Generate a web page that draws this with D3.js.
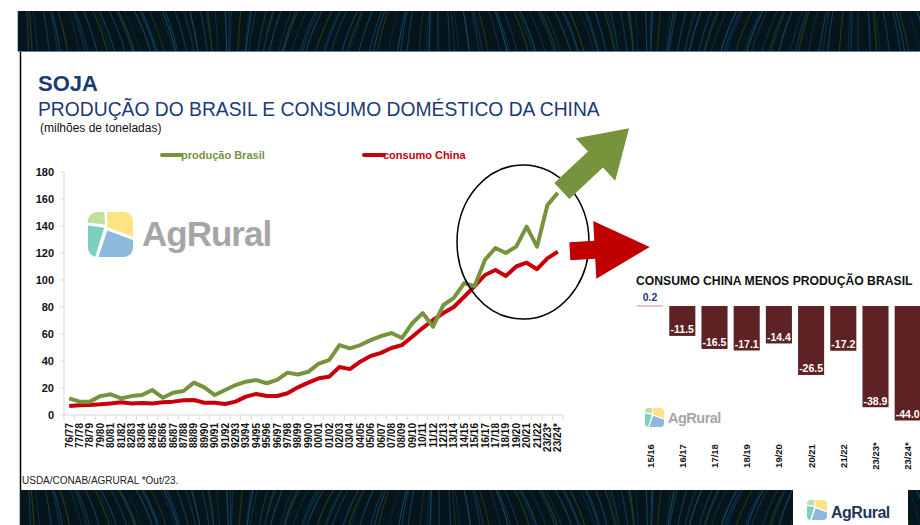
<!DOCTYPE html>
<html>
<head>
<meta charset="utf-8">
<script src="https://cdn.jsdelivr.net/npm/d3@7"></script>
<style>
  body { margin: 0; background: #fff; }
  svg { display: block; font-family: "Liberation Sans", Arial, sans-serif; }
</style>
</head>
<body>
<script>
/* seasons on the main chart */
var seasons = ["76/77","77/78","78/79","79/80","80/81","81/82","82/83","83/84","84/85","85/86",
  "86/87","87/88","88/89","89/90","90/91","91/92","92/93","93/94","94/95","95/96",
  "96/97","97/98","98/99","99/00","00/01","01/02","02/03","03/04","04/05","05/06",
  "06/07","07/08","08/09","09/10","10/11","11/12","12/13","13/14","14/15","15/16",
  "16/17","17/18","18/19","19/20","20/21","21/22","23/23*","23/24*"];

/* soy production Brazil (million t) */
var brasil = [12.3, 9.9, 9.9, 14.0, 15.3, 12.3, 14.0, 14.8, 18.5, 12.8,
  16.5, 17.8, 24.0, 20.5, 14.8, 18.5, 22.2, 24.7, 25.9, 23.5,
  26.0, 31.4, 30.0, 32.0, 38.0, 40.7, 51.8, 49.4, 51.8, 55.5,
  58.5, 60.7, 57.0, 68.0, 75.5, 65.4, 81.5, 86.7, 97.7, 95.5,
  115.0, 123.7, 120.0, 124.7, 139.5, 124.7, 155.5, 164.5];

/* soy domestic consumption China (million t) */
var china = [6.7, 7.2, 7.4, 7.9, 8.6, 9.4, 8.6, 8.9, 8.6, 9.4,
  9.9, 10.9, 11.1, 9.1, 9.1, 8.1, 9.9, 13.6, 15.6, 14.1,
  14.1, 16.1, 20.5, 24.0, 27.2, 28.4, 35.5, 34.0, 39.5, 43.7,
  46.0, 49.6, 51.8, 58.0, 64.4, 70.4, 75.5, 80.0, 87.6, 95.5,
  103.7, 107.4, 103.0, 110.0, 112.8, 108.0, 116.0, 121.0];

var yTicks = [0, 20, 40, 60, 80, 100, 120, 140, 160, 180];

/* right panel: consumption China minus production Brazil */
var diffSeasons = ["15/16","16/17","17/18","18/19","19/20","20/21","21/22","23/23*","23/24*"];
var diffValues = [0.2, -11.5, -16.5, -17.1, -14.4, -26.5, -17.2, -38.9, -44.0];

var W = 920, H = 525;
var green = "#77933c", red = "#c8000a", navy = "#1b3a78", maroon = "#5e2225";

var svg = d3.select("body").append("svg").attr("width", W).attr("height", H);

/* dark decorative bands */
function band(x0, y0, w, h) {
  var g = svg.append("g");
  g.append("rect").attr("x", x0).attr("y", y0).attr("width", w).attr("height", h).attr("fill", "#06151c");
  var cols = ["#0e3a55", "#123f5c", "#2b3d12", "#0b2c40", "#164a66"];
  for (var i = 0; i < 150; i++) {
    var x = x0 + i * (w / 150) + 3 * Math.sin(i * 1.7);
    var bend = 10 * Math.sin(i * 0.09);
    g.append("path")
      .attr("d", "M" + x + "," + y0 + " Q" + (x + bend) + "," + (y0 + h / 2) + " " + (x + bend * 1.6) + "," + (y0 + h))
      .attr("stroke", cols[i % 5]).attr("stroke-width", 1.2).attr("fill", "none")
      .attr("opacity", 0.55 + 0.4 * Math.abs(Math.sin(i * 0.7)));
  }
}
band(18, 11, W - 18, 40);
band(20, 490, W - 20, 35);
svg.append("line").attr("x1", 18).attr("x2", W).attr("y1", 51.5).attr("y2", 51.5).attr("stroke", "#5c7fa6").attr("stroke-width", 1.2);
svg.append("line").attr("x1", 20.5).attr("x2", 20.5).attr("y1", 52).attr("y2", 490).attr("stroke", "#000").attr("stroke-width", 1.5);

/* logo */
function logo(x, y, s) {
  var g = svg.append("g").attr("transform", "translate(" + x + "," + y + ") scale(" + s + ")");
  var id = "clip" + Math.round(x) + "_" + Math.round(y);
  g.append("clipPath").attr("id", id).append("rect").attr("width", 1).attr("height", 1).attr("rx", 0.2);
  var pg = g.append("g").attr("clip-path", "url(#" + id + ")");
  var pieces = [
    { c: "#c2dea0", p: [[0, 0], [0.36, 0], [0.38, 0.28], [0, 0.24]] },
    { c: "#fde383", p: [[0.42, 0], [1, 0], [1, 0.55], [0.43, 0.34]] },
    { c: "#7dcfc0", p: [[0, 0.3], [0.36, 0.35], [0.16, 1], [0, 1]] },
    { c: "#8db9df", p: [[0.43, 0.41], [1, 0.62], [1, 1], [0.23, 1]] }
  ];
  pieces.forEach(function(d) {
    pg.append("polygon").attr("points", d.p.map(function(q) { return q.join(","); }).join(" ")).attr("fill", d.c);
  });
}

/* titles */
svg.append("text").attr("x", 38).attr("y", 91).attr("font-size", 22).attr("font-weight", "bold").attr("fill", navy).text("SOJA");
svg.append("text").attr("x", 38).attr("y", 116).attr("font-size", 19.3).attr("fill", navy).text("PRODUÇÃO DO BRASIL E CONSUMO DOMÉSTICO DA CHINA");
svg.append("text").attr("x", 40).attr("y", 132).attr("font-size", 12).attr("fill", "#111").text("(milhões de toneladas)");

/* main chart */
var x = d3.scaleBand().domain(seasons).range([64, 563]);
var y = d3.scaleLinear().domain([0, 180]).range([415, 172]);

/* watermark */
logo(88, 212, 45);
svg.append("text").attr("x", 142).attr("y", 246).attr("font-size", 35).attr("font-weight", "bold")
  .attr("fill", "#a6a6a6").attr("letter-spacing", -1).text("AgRural");

var axisCol = "#d9d9d9";
svg.append("line").attr("x1", 64).attr("x2", 64).attr("y1", y(180)).attr("y2", y(0)).attr("stroke", axisCol);
svg.append("line").attr("x1", 64).attr("x2", 563).attr("y1", y(0)).attr("y2", y(0)).attr("stroke", axisCol);
svg.selectAll(".yt").data(yTicks).enter().append("line")
  .attr("x1", 60).attr("x2", 64).attr("y1", function(d) { return y(d); }).attr("y2", function(d) { return y(d); })
  .attr("stroke", axisCol);
svg.selectAll(".yl").data(yTicks).enter().append("text")
  .attr("x", 54).attr("y", function(d) { return y(d) + 4; })
  .attr("text-anchor", "end").attr("font-size", 11).attr("font-weight", "bold").attr("fill", "#111")
  .text(function(d) { return d; });
svg.selectAll(".xt").data(seasons.concat([""])).enter().append("line")
  .attr("x1", function(d, i) { return 64 + i * x.step(); }).attr("x2", function(d, i) { return 64 + i * x.step(); })
  .attr("y1", y(0)).attr("y2", y(0) + 5).attr("stroke", axisCol);
svg.selectAll(".xl").data(seasons).enter().append("text")
  .attr("transform", function(d) { return "translate(" + (x(d) + x.bandwidth() / 2 + 3.5) + "," + (y(0) + 8) + ") rotate(-90)"; })
  .attr("text-anchor", "end").attr("font-size", 10).attr("font-weight", "bold").attr("fill", "#111")
  .text(function(d) { return d; });

var line = d3.line()
  .x(function(d, i) { return x(seasons[i]) + x.bandwidth() / 2; })
  .y(function(d) { return y(d); });

svg.append("path").datum(china).attr("d", line).attr("fill", "none")
  .attr("stroke", red).attr("stroke-width", 4).attr("stroke-linejoin", "round");
svg.append("path").datum(brasil).attr("d", line).attr("fill", "none")
  .attr("stroke", green).attr("stroke-width", 4).attr("stroke-linejoin", "round");

/* legend */
svg.append("line").attr("x1", 162).attr("x2", 181).attr("y1", 155).attr("y2", 155)
  .attr("stroke", green).attr("stroke-width", 4).attr("stroke-linecap", "round");
svg.append("text").attr("x", 181).attr("y", 159).attr("font-size", 11).attr("font-weight", "bold").attr("fill", green).text("produção Brasil");
svg.append("line").attr("x1", 364).attr("x2", 384).attr("y1", 155).attr("y2", 155)
  .attr("stroke", red).attr("stroke-width", 4).attr("stroke-linecap", "round");
svg.append("text").attr("x", 383).attr("y", 159).attr("font-size", 11).attr("font-weight", "bold").attr("fill", red).text("consumo China");

/* highlight ellipse and arrows */
svg.append("ellipse").attr("cx", 523).attr("cy", 242).attr("rx", 66).attr("ry", 77)
  .attr("fill", "none").attr("stroke", "#000").attr("stroke-width", 1.5);

function arrow(x0, y0, ang, len, sw, hw, hl, col) {
  var pts = [[0, -sw / 2], [len - hl, -sw / 2], [len - hl, -hw / 2], [len, 0], [len - hl, hw / 2], [len - hl, sw / 2], [0, sw / 2]];
  svg.append("polygon")
    .attr("transform", "translate(" + x0 + "," + y0 + ") rotate(" + ang + ")")
    .attr("points", pts.map(function(p) { return p.join(","); }).join(" "))
    .attr("fill", col);
}
var lastX = x(seasons[seasons.length - 1]) + x.bandwidth() / 2;
arrow(lastX + 4, y(brasil[brasil.length - 1]) - 2, -43, 92, 22, 58, 46, green);
arrow(lastX + 12, y(china[china.length - 1]) - 0.5, -3, 80, 18, 58, 55, "#c00000");

/* right panel */
svg.append("text").attr("x", 636).attr("y", 285).attr("font-size", 12.2).attr("font-weight", "bold").attr("fill", "#111")
  .text("CONSUMO CHINA MENOS PRODUÇÃO BRASIL");

var xb = d3.scaleBand().domain(diffSeasons).range([634, 634 + 9 * 32.2]).paddingInner(0.19).paddingOuter(0.095);
var yb = d3.scaleLinear().domain([0, -44]).range([306, 420.5]);

logo(645, 408, 19);
svg.append("text").attr("x", 668).attr("y", 423).attr("font-size", 14.5).attr("font-weight", "bold")
  .attr("fill", "#a6a6a6").attr("letter-spacing", -0.5).text("AgRural");

svg.selectAll(".bar").data(diffValues).enter().append("rect")
  .attr("x", function(d, i) { return xb(diffSeasons[i]); })
  .attr("width", xb.bandwidth())
  .attr("y", function(d) { return Math.min(yb(d), yb(0)); })
  .attr("height", function(d) { return Math.max(1, Math.abs(yb(d) - yb(0))); })
  .attr("fill", function(d) { return d > 0 ? "#c89090" : maroon; });

svg.selectAll(".bl").data(diffValues).enter().append("text")
  .attr("x", function(d, i) { return xb(diffSeasons[i]) + xb.bandwidth() / 2; })
  .attr("y", function(d) { return d > 0 ? yb(d) - 4 : yb(d) - 2.5; })
  .attr("text-anchor", "middle").attr("font-size", 10.5).attr("font-weight", "bold")
  .attr("fill", function(d) { return d > 0 ? navy : "#fff"; })
  .text(function(d) { return d.toFixed(1); });

svg.selectAll(".bx").data(diffSeasons).enter().append("text")
  .attr("transform", function(d) { return "translate(" + (xb(d) + xb.bandwidth() / 2 + 3.5) + ",456) rotate(-90)"; })
  .attr("text-anchor", "middle").attr("font-size", 9.5).attr("font-weight", "bold").attr("fill", "#111")
  .text(function(d) { return d; });

/* footnote */
svg.append("text").attr("x", 22).attr("y", 484).attr("font-size", 10)
  .attr("fill", "#222").text("USDA/CONAB/AGRURAL  *Out/23.");

/* bottom right logo box */
svg.append("rect").attr("x", 793).attr("y", 490).attr("width", 115).attr("height", 35).attr("fill", "#fff");
logo(807, 500, 20);
svg.append("text").attr("x", 831).attr("y", 518).attr("font-size", 16).attr("font-weight", "bold")
  .attr("fill", "#1d3557").attr("letter-spacing", -0.5).text("AgRural");
</script>
</body>
</html>
